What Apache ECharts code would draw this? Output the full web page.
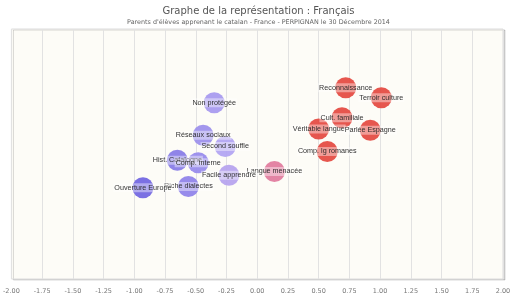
<!DOCTYPE html>
<html><head><meta charset="utf-8">
<script src="https://cdn.jsdelivr.net/npm/echarts@6/dist/echarts.min.js"></script>
<style>html,body{margin:0;padding:0;background:#fff}#c{width:517px;height:299px}</style>
</head><body><div id="c"></div>
<script>
const titleText = 'Graphe de la représentation : Français';
const subtitleText = "Parents d'élèves apprenant le catalan - France - PERPIGNAN le 30 Décembre 2014";
const labels = ['Reconnaissance','Terroir culture','Cult. familiale','Véritable langue','Parlée Espagne','Comp. lg romanes','Langue menacée','Non protégée','Réseaux sociaux','Second souffle','Hist. Catalogne','Comp. interne','Facile apprendre','Riche dialectes','Ouverture Europe'];
const xValues = [0.72, 1.01, 0.69, 0.50, 0.92, 0.57, 0.14, -0.35, -0.44, -0.26, -0.65, -0.48, -0.23, -0.56, -0.93];
const yValues = [0.53, 0.45, 0.29, 0.20, 0.19, 0.02, -0.14, 0.41, 0.15, 0.06, -0.05, -0.07, -0.17, -0.26, -0.27];
const xTicks = [-2, 2, 0.25];

const data = labels.map((n, i) => ({name: n, value: [xValues[i], yValues[i]]}));

const chart = echarts.init(document.getElementById('c'));
chart.setOption({
  backgroundColor: '#ffffff',
  animation: false,
  title: [
    {text: titleText, left: 'center', top: 1, textStyle: {fontFamily: 'DejaVu Sans', fontSize: 10, fontWeight: 'normal', color: '#555'}},
    {text: subtitleText, left: 'center', top: 14, textStyle: {fontFamily: 'DejaVu Sans', fontSize: 6.4, fontWeight: 'normal', color: '#666'}}
  ],
  grid: {left: 7, right: 14, top: 29, bottom: 20, show: true, backgroundColor: '#fdfcf7', borderColor: '#dcdcdc', borderWidth: 1,
    shadowColor: 'rgba(0,0,0,0.15)', shadowBlur: 0, shadowOffsetX: 2, shadowOffsetY: 1},
  xAxis: {type: 'value', min: xTicks[0], max: xTicks[1], interval: xTicks[2],
    axisLine: {show: false}, axisTick: {show: false},
    splitLine: {show: true, lineStyle: {color: '#e2e2e2', width: 1}},
    axisLabel: {fontFamily: 'DejaVu Sans', fontSize: 6.5, color: '#777', margin: 9, formatter: v => v.toFixed(2)}},
  yAxis: {type: 'value', min: -1, max: 1, show: false, splitLine: {show: false}},
  visualMap: {show: false, type: 'continuous', dimension: 0, min: -1, max: 1,
    inRange: {color: ['#6b5fe0', '#7d70e4', '#9487ea', '#b2a4f2', '#dd8fc0', '#e56a80', '#e4483f', '#e4483f', '#e4483f']}},
  series: [{
    type: 'scatter', symbolSize: 21, data: data,
    itemStyle: {opacity: 0.92},
    label: {show: true, position: 'inside', formatter: p => p.name, fontFamily: 'Liberation Sans', fontSize: 7.2, color: '#222',
      backgroundColor: 'rgba(255,255,255,0.45)', padding: [1, 1]}
  }]
});
</script></body></html>
